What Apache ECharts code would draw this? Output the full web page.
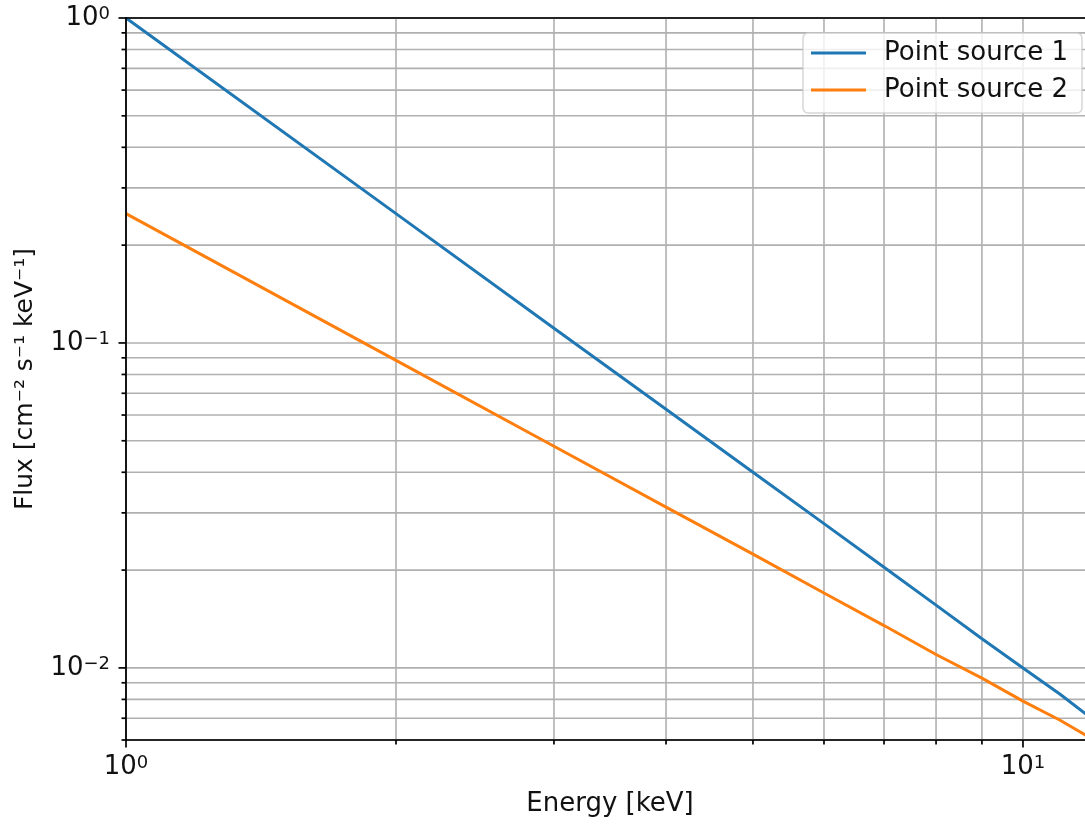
<!DOCTYPE html>
<html>
<head>
<meta charset="utf-8">
<script src="https://cdn.jsdelivr.net/npm/echarts@6/dist/echarts.min.js"></script>
<style>
html,body{margin:0;padding:0;background:#fff;}
#chart{width:1085px;height:825px;}
</style>
</head>
<body>
<div id="chart"></div>
<script>
// ---- data ----
const energy = [1, 2, 3, 4, 5, 6, 7, 8, 9, 10, 11, 12];
const source1 = [1.0, 0.25, 0.111, 0.0625, 0.04, 0.0278, 0.0204, 0.0156, 0.0123, 0.01, 0.0083, 0.0069];
const source2 = [0.25, 0.0884, 0.0481, 0.03125, 0.0224, 0.0170, 0.0135, 0.0110, 0.0093, 0.0079, 0.0069, 0.0060];
const seriesNames = ['Point source 1', 'Point source 2'];
const xMajorTicks = [1, 10];
const xMinorTicks = [2, 3, 4, 5, 6, 7, 8, 9];
const yMajorTicks = [0.01, 0.1, 1];
const yMinorTicks = [0.006, 0.007, 0.008, 0.009, 0.02, 0.03, 0.04, 0.05, 0.06, 0.07, 0.08, 0.09,
                     0.2, 0.3, 0.4, 0.5, 0.6, 0.7, 0.8, 0.9];
const xRange = [1, 12];
const yRange = [0.006, 1];

const FONT = 'DejaVu Sans';
const FS = 26;
const GRID_COLOR = '#b0b0b0';

function powLabel(v) {
  const l = Math.log10(v);
  const e = Math.round(l);
  if (Math.abs(l - e) > 1e-6) return '';
  return '10{sup|' + String(e).replace('-', '\u2212') + '}';
}

const richSup = {
  sup: { fontSize: 18, lineHeight: 18, verticalAlign: 'top', fontFamily: FONT, color: '#111' }
};

const xTickData = xMajorTicks.map(v => [v, 1, 1]).concat(xMinorTicks.map(v => [v, 1, 0]));
const yTickData = yMajorTicks.map(v => [1, v, 1]).concat(yMinorTicks.map(v => [1, v, 0]));

function xTickRender(params, api) {
  const cs = params.coordSys;
  const x = api.coord([api.value(0), 1])[0];
  const major = api.value(2) === 1;
  const bottom = cs.y + cs.height;
  return {
    type: 'group',
    children: [
      { type: 'line', shape: { x1: x, y1: cs.y, x2: x, y2: bottom },
        style: { stroke: GRID_COLOR, lineWidth: 1.6 }, z2: 0 },
      { type: 'line', shape: { x1: x, y1: bottom, x2: x, y2: bottom + (major ? 7.5 : 4.5) },
        style: { stroke: '#000', lineWidth: 1.7 }, z2: 5 }
    ]
  };
}
function yTickRender(params, api) {
  const cs = params.coordSys;
  const y = api.coord([1, api.value(1)])[1];
  const major = api.value(2) === 1;
  return {
    type: 'group',
    children: [
      { type: 'line', shape: { x1: cs.x, y1: y, x2: cs.x + cs.width, y2: y },
        style: { stroke: GRID_COLOR, lineWidth: 1.6 }, z2: 0 },
      { type: 'line', shape: { x1: cs.x, y1: y, x2: cs.x - (major ? 7.5 : 4.5), y2: y },
        style: { stroke: '#000', lineWidth: 1.7 }, z2: 5 }
    ]
  };
}

const chart = echarts.init(document.getElementById('chart'), null, { renderer: 'canvas' });
chart.setOption({
  animation: false,
  backgroundColor: '#fff',
  textStyle: { fontFamily: FONT },
  grid: {
    left: 126, top: 18, width: 968, height: 722,
    outerBoundsMode: 'none',
    show: true, borderColor: '#000', borderWidth: 1.7, backgroundColor: 'transparent',
    containLabel: false
  },
  legend: {
    orient: 'vertical',
    left: 803, top: 33,
    padding: [5, 14, 8, 8],
    itemGap: 7,
    itemWidth: 55, itemHeight: 3,
    backgroundColor: 'rgba(255,255,255,0.8)',
    borderColor: 'rgba(204,204,204,0.8)', borderWidth: 1.5, borderRadius: 5,
    textStyle: { fontFamily: FONT, fontSize: FS, lineHeight: 30, color: '#111', padding: [0, 0, 0, 13] },
    data: seriesNames.map(n => ({ name: n, icon: 'rect' }))
  },
  xAxis: [{
    type: 'log', logBase: 10, min: xRange[0], max: xRange[1], z: 3,
    name: 'Energy [keV]', nameLocation: 'middle', nameGap: 51,
    nameTextStyle: { fontFamily: FONT, fontSize: FS, color: '#111' },
    axisLine: { show: true, lineStyle: { color: '#000', width: 1.7 } },
    axisTick: { show: false }, splitLine: { show: false }, minorTick: { show: false },
    axisLabel: {
      margin: 14, fontFamily: FONT, fontSize: FS, color: '#111',
      formatter: powLabel, rich: richSup, showMinLabel: true, showMaxLabel: true
    }
  }, {
    type: 'log', logBase: 10, min: xRange[0], max: xRange[1], z: 3, position: 'top',
    axisLine: { show: true, lineStyle: { color: '#000', width: 1.7 } },
    axisTick: { show: false }, splitLine: { show: false }, axisLabel: { show: false }
  }],
  yAxis: {
    type: 'log', logBase: 10, min: yRange[0], max: yRange[1], z: 3,
    name: 'Flux [cm\u207B\u00B2 s\u207B\u00B9 keV\u207B\u00B9]',
    nameLocation: 'middle', nameGap: 88, nameRotate: 90,
    nameTextStyle: { fontFamily: FONT, fontSize: FS - 1, color: '#111' },
    axisLine: { show: true, lineStyle: { color: '#000', width: 1.7 } },
    axisTick: { show: false }, splitLine: { show: false }, minorTick: { show: false },
    axisLabel: {
      margin: 16, fontFamily: FONT, fontSize: FS, color: '#111',
      formatter: powLabel, rich: richSup, showMinLabel: true, showMaxLabel: true
    }
  },
  series: [
    {
      type: 'custom', name: 'xgrid', silent: true, z: 1, clip: false,
      renderItem: xTickRender, data: xTickData, encode: { x: 0, y: 1 }
    },
    {
      type: 'custom', name: 'ygrid', silent: true, z: 1, clip: false,
      renderItem: yTickRender, data: yTickData, encode: { x: 0, y: 1 }
    },
    {
      type: 'line', name: seriesNames[0], z: 2,
      data: energy.map((e, i) => [e, source1[i]]),
      symbol: 'none', showSymbol: false, color: '#1f77b4',
      lineStyle: { color: '#1f77b4', width: 3 }
    },
    {
      type: 'line', name: seriesNames[1], z: 2,
      data: energy.map((e, i) => [e, source2[i]]),
      symbol: 'none', showSymbol: false, color: '#ff7f0e',
      lineStyle: { color: '#ff7f0e', width: 3 }
    }
  ]
});
</script>
</body>
</html>
